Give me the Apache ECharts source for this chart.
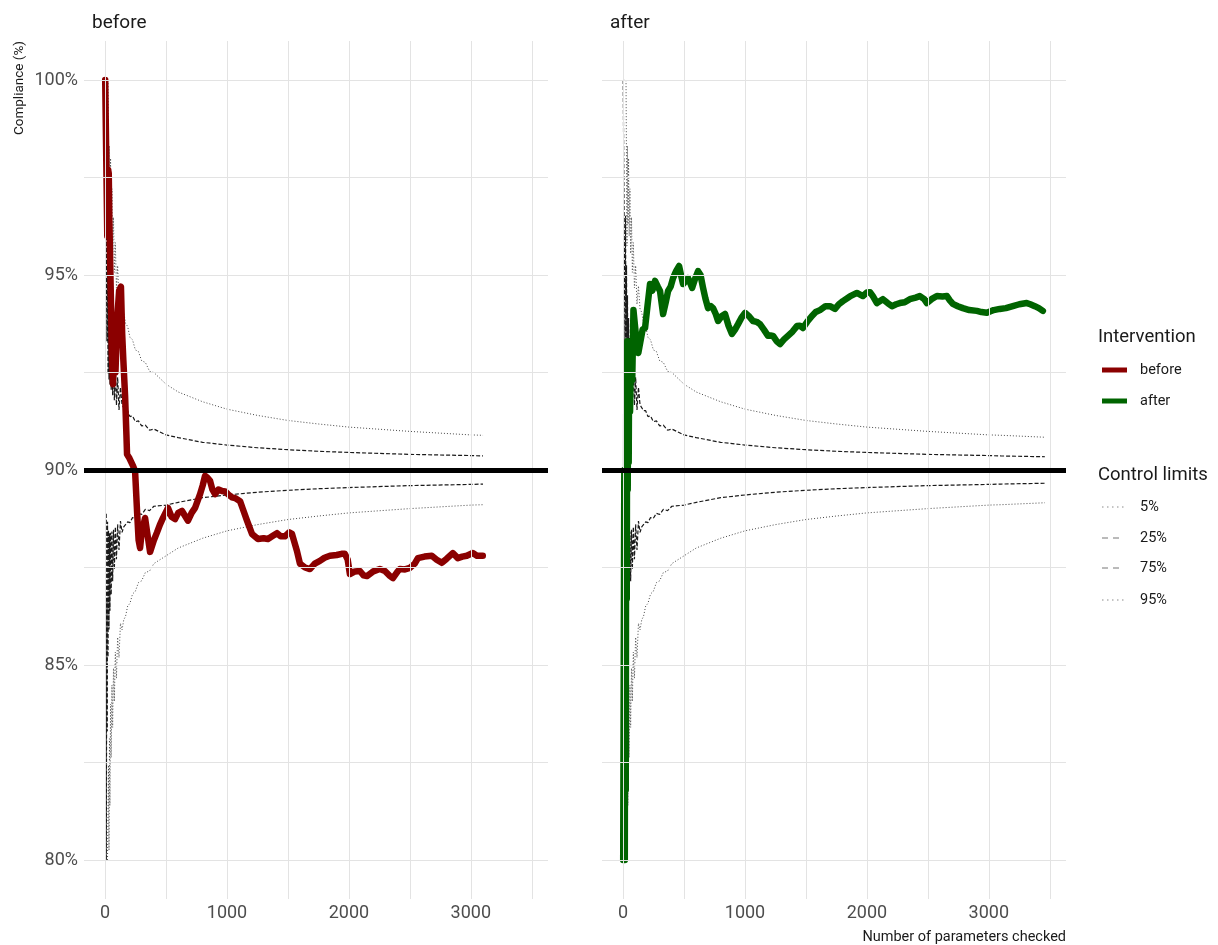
<!DOCTYPE html>
<html>
<head>
<meta charset="utf-8">
<script src="https://cdn.jsdelivr.net/npm/echarts@6/dist/echarts.min.js"></script>
<style>
  html, body { margin: 0; padding: 0; background: #ffffff; }
  #chart { width: 1218px; height: 945px; }
</style>
</head>
<body>
<div id="chart"></div>
<script>
// Cumulative compliance (%) by number of parameters checked, [n, %]
const beforeSeries = [
  [1,100],[10,100],[17,100],[18,96.0],[25,97.7],[30,97.6],[35,96.4],[45,96.4],[50,94.0],[55,93.0],
  [65,92.2],[75,93.3],[85,92.5],[100,93.9],[115,94.6],[130,94.7],[140,93.5],[150,92.8],[164,91.9],
  [175,90.9],[180,90.4],[200,90.3],[230,90.1],[246,89.97],[262,88.95],[275,88.2],[287,88.0],[300,88.4],
  [328,88.77],[345,88.4],[369,87.9],[400,88.2],[426,88.4],[450,88.6],[475,88.77],[516,89.03],[545,88.8],
  [574,88.74],[600,88.9],[631,88.95],[660,88.8],[680,88.7],[710,88.9],[738,89.03],[779,89.38],[800,89.6],
  [820,89.85],[840,89.8],[861,89.72],[880,89.5],[902,89.38],[930,89.5],[959,89.46],[985,89.45],[1008,89.38],
  [1040,89.3],[1066,89.28],[1107,89.2],[1130,89.0],[1164,88.7],[1205,88.36],[1254,88.23],[1300,88.25],
  [1336,88.23],[1370,88.3],[1410,88.38],[1440,88.3],[1475,88.3],[1510,88.4],[1533,88.36],[1574,87.92],
  [1598,87.6],[1640,87.5],[1680,87.46],[1720,87.6],[1762,87.67],[1800,87.75],[1844,87.8],[1900,87.82],
  [1940,87.85],[1967,87.85],[1990,87.7],[2008,87.33],[2050,87.4],[2090,87.41],[2120,87.3],[2148,87.28],
  [2200,87.4],[2254,87.46],[2295,87.41],[2330,87.3],[2361,87.23],[2400,87.4],[2418,87.46],[2460,87.45],
  [2500,87.49],[2540,87.6],[2566,87.74],[2620,87.78],[2680,87.8],[2720,87.7],[2762,87.62],[2800,87.72],
  [2852,87.87],[2893,87.74],[2930,87.78],[2967,87.8],[3016,87.87],[3050,87.8],[3098,87.8]
];

const afterSeries = [
  [1,80],[6,80],[10,90],[14,80],[18,88.9],[22,81.8],[26,92.3],[30,86.7],[34,93.3],[38,89.5],[42,92.9],
  [46,90.2],[50,93.0],[57,91.5],[65,93.2],[75,92.3],[85,94.1],[98,94.15],
  [110,93.3],[125,93.0],[139,93.05],[160,93.6],[180,93.64],[200,94.2],[221,94.77],[240,94.6],[262,94.85],
  [285,94.7],[303,94.59],[328,94.0],[350,94.3],[369,94.59],[390,94.7],[410,94.92],[435,95.1],[459,95.23],
  [475,95.0],[492,94.77],[515,94.85],[533,94.92],[550,94.8],[566,94.67],[590,94.9],[615,95.1],[635,95.0],
  [656,94.67],[675,94.4],[697,94.15],[720,94.2],[738,94.15],[760,94.0],[779,93.82],[810,93.95],[836,94.0],
  [865,93.7],[893,93.49],[918,93.6],[943,93.74],[970,93.9],[1000,94.03],[1030,93.95],[1066,93.82],
  [1095,93.8],[1123,93.74],[1155,93.6],[1189,93.44],[1210,93.45],[1230,93.44],[1260,93.3],[1287,93.23],
  [1320,93.35],[1352,93.44],[1390,93.55],[1426,93.69],[1450,93.7],[1475,93.64],[1510,93.8],[1549,93.95],
  [1580,94.05],[1615,94.1],[1660,94.2],[1697,94.2],[1738,94.13],[1770,94.25],[1803,94.33],[1860,94.45],
  [1918,94.54],[1967,94.46],[2000,94.55],[2025,94.56],[2050,94.45],[2082,94.28],[2131,94.38],[2170,94.28],
  [2205,94.2],[2240,94.25],[2270,94.28],[2310,94.3],[2352,94.38],[2400,94.42],[2434,94.46],[2470,94.38],
  [2492,94.28],[2530,94.38],[2574,94.46],[2620,94.45],[2656,94.46],[2680,94.35],[2705,94.26],[2745,94.2],
  [2787,94.15],[2840,94.1],[2902,94.08],[2940,94.05],[2984,94.03],[3040,94.1],[3090,94.13],[3140,94.15],
  [3197,94.2],[3250,94.25],[3311,94.28],[3340,94.25],[3377,94.2],[3410,94.15],[3443,94.08]
];

// Control limits around the 90% target (binomial quantiles, which zig-zag at small n)
const limitN = [
  1,5,8,9,10,12,15,18,
  20,24,28,32,36,40,45,50,56,62,69,76,84,93,103,114,126,139,153,168,185,204,225,248,273,300,330,365,400,
  500,600,800,1000,1250,1500,1750,2000,2500,3000,3100,3460
];
const limit5 = [
  null,null,null,null,null,null,null,null,
  80,80,82.43,80.25,83.11,81.4,84.0,82.63,84.48,83.4,84.92,84.07,85.33,84.66,85.71,85.19,86.07,85.9,
  86.16,86.25,86.51,86.58,86.82,86.89,87.11,87.16,87.37,87.41,87.6,
  87.8,88.0,88.25,88.44,88.6,88.73,88.82,88.9,89.01,89.1,89.11,89.16
];
const limit25 = [
  null,80,87.5,88.9,80,83.3,86.7,83.3,
  88.67,85.2,88.45,85.91,88.38,86.39,88.39,86.8,88.42,87.15,88.47,87.45,88.54,87.71,88.61,87.95,88.69,88.4,
  88.54,88.53,88.67,88.65,88.78,88.76,88.89,88.86,88.99,88.96,89.07,
  89.1,89.17,89.29,89.36,89.43,89.48,89.52,89.55,89.6,89.63,89.64,89.66
];
const limit75 = [
  100,100,100,100,100,100,93.3,94.4,
  96.52,92.46,95.25,92.32,94.48,92.19,93.9,92.06,93.41,91.92,93.01,91.79,92.68,91.66,92.38,91.54,92.12,91.67,
  91.67,91.52,91.52,91.37,91.39,91.24,91.26,91.13,91.15,91.02,91.05,
  90.9,90.83,90.71,90.64,90.57,90.52,90.48,90.45,90.4,90.37,90.36,90.34
];
const limit95 = [
  100,100,100,100,100,100,100,100,
  100,100,100,95.75,98.31,96.3,97.99,96.0,97.21,95.55,96.48,95.07,95.83,94.67,95.24,94.25,94.72,94.13,
  94.04,93.76,93.68,93.4,93.34,93.08,93.04,92.8,92.76,92.53,92.5,
  92.2,92.0,91.75,91.56,91.4,91.27,91.18,91.1,90.99,90.9,90.89,90.84
];

const target = 90;
const xTickValues = [0, 1000, 2000, 3000];
const xGridValues = [0, 500, 1000, 1500, 2000, 2500, 3000, 3500];
const yTickValues = [80, 85, 90, 95, 100];
const yGridValues = [80, 82.5, 85, 87.5, 90, 92.5, 95, 97.5, 100];

const panels = [
  { title: 'before', data: beforeSeries, color: '#8b0000' },
  { title: 'after',  data: afterSeries,  color: '#006400' }
];

const limitDefs = [
  { name: '5%',  values: limit5,  type: [1, 2], color: '#4a4a4a', width: 1,   keyColor: '#8a8a8a', keyDash: [1.5, 3.5] },
  { name: '25%', values: limit25, type: [4, 2], color: '#1a1a1a', width: 1.2, keyColor: '#777777', keyDash: [6, 5] },
  { name: '75%', values: limit75, type: [4, 2], color: '#1a1a1a', width: 1.2, keyColor: '#777777', keyDash: [6, 5] },
  { name: '95%', values: limit95, type: [1, 2], color: '#4a4a4a', width: 1,   keyColor: '#8a8a8a', keyDash: [1.5, 3.5] }
];

const FONT = 'Roboto';
const gridLeft = [84, 602];

const grids = [], xAxes = [], yAxes = [], series = [];

panels.forEach((p, i) => {
  grids.push({ left: gridLeft[i], top: 41, width: 464, height: 858 });
  xAxes.push({
    type: 'value', gridIndex: i, min: -173, max: 3633,
    axisLine: { show: false }, axisTick: { show: false }, splitLine: { show: false },
    axisLabel: { customValues: xTickValues, fontFamily: FONT, fontSize: 18, color: '#4d4d4d', margin: 5,
      formatter: v => String(v) }
  });
  yAxes.push({
    type: 'value', gridIndex: i, min: 79, max: 101,
    axisLine: { show: false }, axisTick: { show: false }, splitLine: { show: false },
    axisLabel: {
      show: i === 0, customValues: yTickValues, fontFamily: FONT, fontSize: 18, color: '#4d4d4d', margin: 6,
      formatter: v => v + '%'
    }
  });

  // panel grid lines
  series.push({
    type: 'line', xAxisIndex: i, yAxisIndex: i, data: [], z: 0, silent: true,
    markLine: {
      silent: true, symbol: ['none', 'none'], label: { show: false }, animation: false,
      lineStyle: { color: '#e3e3e3', width: 1, type: 'solid' },
      data: xGridValues.map(v => ({ xAxis: v })).concat(yGridValues.map(v => ({ yAxis: v })))
    }
  });

  const lastN = p.data[p.data.length - 1][0];
  limitDefs.forEach(l => {
    const pts = [];
    limitN.forEach((n, k) => {
      if (l.values[k] !== null && n <= lastN + 20) pts.push([n, l.values[k]]);
    });
    series.push({
      name: l.name, type: 'line', xAxisIndex: i, yAxisIndex: i, data: pts, z: 2,
      showSymbol: false, symbol: 'none', silent: true,
      lineStyle: { color: l.color, width: l.width, type: l.type }
    });
  });

  // target line
  series.push({
    type: 'line', xAxisIndex: i, yAxisIndex: i, data: [], z: 3, silent: true,
    markLine: {
      silent: true, symbol: ['none', 'none'], label: { show: false }, animation: false,
      lineStyle: { color: '#000000', width: 5, type: 'solid' },
      data: [{ yAxis: target }]
    }
  });

  series.push({
    name: p.title, type: 'line', xAxisIndex: i, yAxisIndex: i, data: p.data, z: 4,
    showSymbol: false, symbol: 'none', silent: true,
    lineStyle: { color: p.color, width: 6.5, join: 'round', cap: 'round' }
  });
});

// legend keys and labels
const legendGraphics = [
  { type: 'text', x: 1098, y: 337, style: { text: 'Intervention', font: '18.5px Roboto', fill: '#1a1a1a', textVerticalAlign: 'middle' } },
  { type: 'text', x: 1098, y: 475, style: { text: 'Control limits', font: '18.5px Roboto', fill: '#1a1a1a', textVerticalAlign: 'middle' } }
];
const interventionKeyY = [370, 401];
panels.forEach((p, i) => {
  const y = interventionKeyY[i];
  legendGraphics.push({ type: 'line', shape: { x1: 1102, y1: y, x2: 1127, y2: y }, style: { stroke: p.color, lineWidth: 5 } });
  legendGraphics.push({ type: 'text', x: 1140, y: y, style: { text: p.title, font: '14.5px Roboto', fill: '#1a1a1a', textVerticalAlign: 'middle' } });
});
const limitKeyY = [507, 538, 568, 600];
limitDefs.forEach((l, i) => {
  const y = limitKeyY[i];
  legendGraphics.push({ type: 'line', shape: { x1: 1102, y1: y, x2: 1124, y2: y }, style: { stroke: l.keyColor, lineWidth: 1, lineDash: l.keyDash } });
  legendGraphics.push({ type: 'text', x: 1140, y: y, style: { text: l.name, font: '14.5px Roboto', fill: '#1a1a1a', textVerticalAlign: 'middle' } });
});

const chart = echarts.init(document.getElementById('chart'), null, { renderer: 'canvas' });
chart.setOption({
  animation: false,
  backgroundColor: '#ffffff',
  textStyle: { fontFamily: FONT },
  grid: grids,
  xAxis: xAxes,
  yAxis: yAxes,
  series: series,
  graphic: [
    { type: 'text', x: 92, y: 23, style: { text: 'before', font: '19px Roboto', fill: '#1a1a1a', textVerticalAlign: 'middle' } },
    { type: 'text', x: 610, y: 23, style: { text: 'after', font: '19px Roboto', fill: '#1a1a1a', textVerticalAlign: 'middle' } },
    { type: 'text', x: 20, y: 41, rotation: Math.PI / 2,
      style: { text: 'Compliance (%)', font: '13.5px Roboto', fill: '#1a1a1a', textAlign: 'right', textVerticalAlign: 'middle' } },
    { type: 'text', x: 1066, y: 937,
      style: { text: 'Number of parameters checked', font: '14.5px Roboto', fill: '#1a1a1a', textAlign: 'right', textVerticalAlign: 'middle' } }
  ].concat(legendGraphics)
});
</script>
</body>
</html>
